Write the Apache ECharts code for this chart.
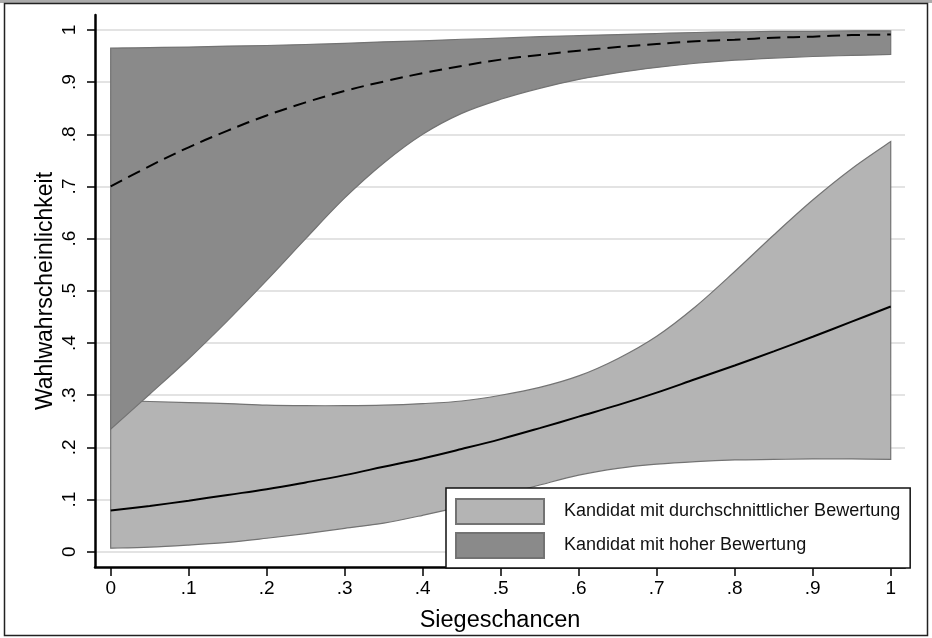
<!DOCTYPE html>
<html>
<head>
<meta charset="utf-8">
<script src="https://cdn.jsdelivr.net/npm/echarts@6/dist/echarts.min.js"></script>
<style>
html,body{margin:0;padding:0;background:#fff;}
#chart{width:932px;height:638px;}
</style>
</head>
<body>
<div id="chart"></div>
<script>
// ---- data ----
const xValues = [0,0.05,0.1,0.15,0.2,0.25,0.3,0.35,0.4,0.45,0.5,0.55,0.6,0.65,0.7,0.75,0.8,0.85,0.9,0.95,1];

// Kandidat mit durchschnittlicher Bewertung (light band)
const avgMean  = [0.079,0.088,0.098,0.109,0.120,0.133,0.147,0.163,0.179,0.197,0.216,0.237,0.259,0.281,0.305,0.331,0.357,0.384,0.412,0.441,0.470];
const avgLower = [0.007,0.009,0.013,0.018,0.026,0.035,0.045,0.055,0.070,0.087,0.108,0.128,0.147,0.160,0.168,0.173,0.176,0.177,0.178,0.178,0.177];
const avgUpper = [0.290,0.288,0.286,0.284,0.281,0.280,0.280,0.281,0.284,0.289,0.300,0.315,0.337,0.370,0.413,0.470,0.537,0.607,0.674,0.734,0.786];

// Kandidat mit hoher Bewertung (dark band)
const highMean  = [0.700,0.739,0.775,0.807,0.836,0.861,0.883,0.901,0.917,0.931,0.943,0.952,0.960,0.967,0.973,0.978,0.981,0.985,0.987,0.990,0.991];
const highLower = [0.235,0.302,0.370,0.443,0.520,0.600,0.678,0.745,0.800,0.840,0.867,0.888,0.905,0.918,0.928,0.936,0.942,0.946,0.949,0.951,0.953];
const highUpper = [0.965,0.966,0.967,0.969,0.970,0.972,0.974,0.977,0.979,0.982,0.984,0.987,0.989,0.991,0.993,0.995,0.996,0.997,0.997,0.998,0.998];

const seriesNames = ['Kandidat mit durchschnittlicher Bewertung','Kandidat mit hoher Bewertung'];

const xTickValues = [0,0.1,0.2,0.3,0.4,0.5,0.6,0.7,0.8,0.9,1];
const xTickLabels = ['0','.1','.2','.3','.4','.5','.6','.7','.8','.9','1'];
const yTickValues = [0,0.1,0.2,0.3,0.4,0.5,0.6,0.7,0.8,0.9,1];
const yTickLabels = ['0','.1','.2','.3','.4','.5','.6','.7','.8','.9','1'];

const xAxisTitle = 'Siegeschancen';
const yAxisTitle = 'Wahlwahrscheinlichkeit';

// ---- build ----
const FONT = '"Liberation Sans", Arial, Helvetica, sans-serif';
const LIGHT = '#b4b4b4', DARK = '#8a8a8a', EDGE = '#737373';

const pairs = (ys) => xValues.map((x, i) => [x, ys[i]]);
const lookup = (vals, labels) => (v) => {
  for (let i = 0; i < vals.length; i++) if (Math.abs(vals[i] - v) < 1e-9) return labels[i];
  return '';
};

// Catmull-Rom style smooth path through pixel points (rendering only)
function smoothSegs(pts) {
  let d = '';
  for (let i = 0; i < pts.length - 1; i++) {
    const p0 = pts[Math.max(0, i - 1)], p1 = pts[i], p2 = pts[i + 1], p3 = pts[Math.min(pts.length - 1, i + 2)];
    const c1x = p1[0] + (p2[0] - p0[0]) / 6, c1y = p1[1] + (p2[1] - p0[1]) / 6;
    const c2x = p2[0] - (p3[0] - p1[0]) / 6, c2y = p2[1] - (p3[1] - p1[1]) / 6;
    d += ' C' + c1x.toFixed(2) + ' ' + c1y.toFixed(2) + ' ' + c2x.toFixed(2) + ' ' + c2y.toFixed(2) + ' ' + p2[0].toFixed(2) + ' ' + p2[1].toFixed(2);
  }
  return d;
}

function bandSeries(name, lo, hi, fill) {
  return {
    name: name, type: 'custom', silent: true,
    itemStyle: {color: fill},
    data: xValues.map((x, i) => [x, lo[i], hi[i]]),
    renderItem: function (params, api) {
      if (params.dataIndex !== 0) return null;
      const up = [], dn = [];
      for (let i = 0; i < xValues.length; i++) {
        up.push(api.coord([xValues[i], hi[i]]));
        dn.push(api.coord([xValues[i], lo[i]]));
      }
      const dnRev = dn.slice().reverse();
      const path = 'M' + up[0][0] + ' ' + up[0][1] + smoothSegs(up) +
                   ' L' + dnRev[0][0] + ' ' + dnRev[0][1] + smoothSegs(dnRev) + ' Z';
      return {type: 'path', shape: {pathData: path},
              style: {fill: fill, stroke: EDGE, lineWidth: 1.2}};
    }
  };
}

const chart = echarts.init(document.getElementById('chart'), null, {renderer: 'canvas'});
chart.setOption({
  animation: false,
  backgroundColor: '#fff',
  textStyle: {fontFamily: FONT},
  graphic: [
    {type: 'rect', shape: {x: 0, y: 0, width: 932, height: 3}, style: {fill: '#ababab'}, z: 100},
    {type: 'rect', shape: {x: 4.5, y: 3.5, width: 923, height: 632}, style: {fill: 'none', stroke: '#222', lineWidth: 1.5}, z: 100}
  ],
  grid: {left: 95, right: 27, top: 15, bottom: 66, containLabel: false},
  xAxis: {
    type: 'value', min: -0.0201, max: 1.0183,
    name: xAxisTitle, nameLocation: 'middle', nameGap: 42,
    nameTextStyle: {fontSize: 23.5, color: '#000', fontFamily: FONT},
    axisLine: {show: true, onZero: false, lineStyle: {color: '#000', width: 2.5}},
    axisTick: {show: true, length: 9, customValues: xTickValues, lineStyle: {color: '#000', width: 1.5}},
    axisLabel: {customValues: xTickValues, formatter: lookup(xTickValues, xTickLabels),
                fontSize: 19, color: '#000', margin: 12, fontFamily: FONT},
    splitLine: {show: false}
  },
  yAxis: {
    type: 'value', min: -0.02905, max: 1.02848,
    name: yAxisTitle, nameLocation: 'middle', nameGap: 38, nameRotate: 90, nameMoveOverlap: false,
    nameTextStyle: {fontSize: 23, color: '#000', fontFamily: FONT},
    axisLine: {show: true, onZero: false, lineStyle: {color: '#000', width: 2.5}},
    axisTick: {show: true, length: 8, customValues: yTickValues, lineStyle: {color: '#000', width: 1.5}},
    axisLabel: {customValues: yTickValues, formatter: lookup(yTickValues, yTickLabels),
                rotate: 90, fontSize: 19, color: '#000', margin: 16, fontFamily: FONT},
    splitLine: {show: true, lineStyle: {color: '#e3e3e3', width: 2}}
  },
  legend: {
    show: true, orient: 'vertical', left: 446, top: 488,
    padding: [10, 10, 9, 9], itemGap: 7, itemWidth: 88, itemHeight: 25,
    backgroundColor: '#fff', borderColor: '#111', borderWidth: 1.5,
    selectedMode: false, icon: 'rect',
    textStyle: {fontSize: 18, color: '#111', fontFamily: FONT, padding: [0, 0, 0, 15]},
    data: [
      {name: seriesNames[0], icon: 'rect', itemStyle: {color: LIGHT, borderColor: EDGE, borderWidth: 2}},
      {name: seriesNames[1], icon: 'rect', itemStyle: {color: DARK, borderColor: EDGE, borderWidth: 2}}
    ]
  },
  series: [
    bandSeries(seriesNames[0], avgLower, avgUpper, LIGHT),
    bandSeries(seriesNames[1], highLower, highUpper, DARK),
    {name: 'avgMean', type: 'line', data: pairs(avgMean), smooth: 0.4, symbol: 'none',
     lineStyle: {color: '#000', width: 2}, silent: true},
    {name: 'highMean', type: 'line', data: pairs(highMean), smooth: 0.4, symbol: 'none',
     lineStyle: {color: '#000', width: 2, type: [13, 7]}, silent: true}
  ]
});
</script>
</body>
</html>
